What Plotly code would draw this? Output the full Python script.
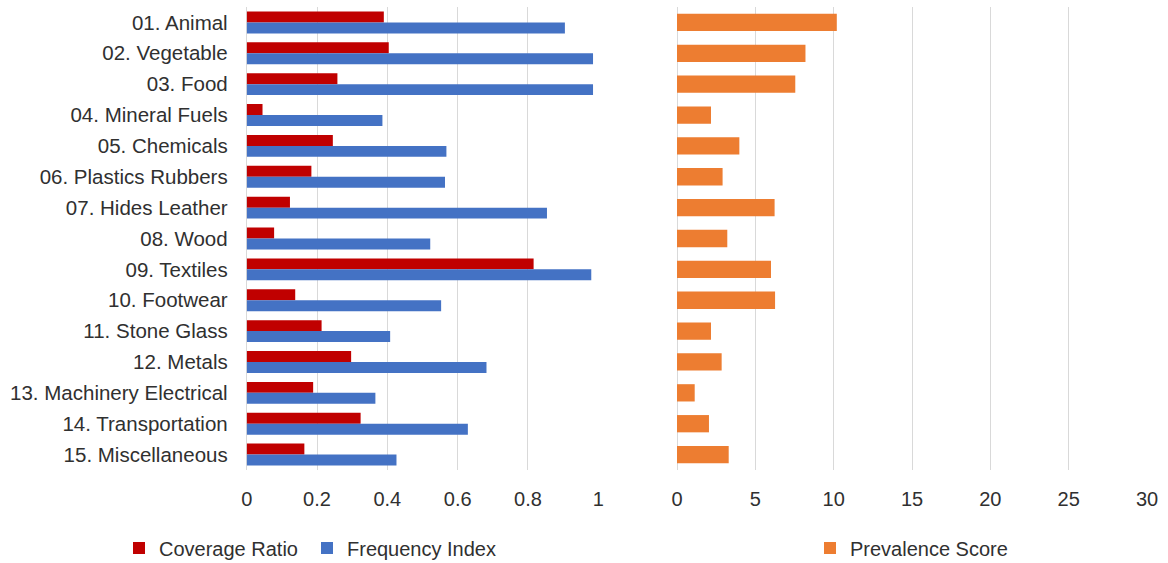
import plotly.graph_objects as go

categories = [
    "01. Animal", "02. Vegetable", "03. Food", "04. Mineral Fuels",
    "05. Chemicals", "06. Plastics Rubbers", "07. Hides Leather", "08. Wood",
    "09. Textiles", "10. Footwear", "11. Stone Glass", "12. Metals",
    "13. Machinery Electrical", "14. Transportation", "15. Miscellaneous",
]
coverage_ratio = [0.39, 0.404, 0.258, 0.045, 0.245, 0.184, 0.123, 0.078,
                  0.816, 0.138, 0.213, 0.297, 0.189, 0.324, 0.164]
frequency_index = [0.905, 0.985, 0.985, 0.386, 0.568, 0.564, 0.854, 0.522,
                   0.98, 0.553, 0.408, 0.682, 0.366, 0.629, 0.426]
prevalence_score = [10.2, 8.2, 7.55, 2.17, 3.98, 2.91, 6.23, 3.21,
                    6.0, 6.26, 2.17, 2.85, 1.13, 2.04, 3.3]

left_ticks = [0, 0.2, 0.4, 0.6, 0.8, 1]
left_tick_text = ["0", "0.2", "0.4", "0.6", "0.8", "1"]
right_ticks = [0, 5, 10, 15, 20, 25, 30]

W, H = 1168, 563
FAMILY = "Liberation Sans, Arial, sans-serif"
TEXT = "#303030"
FONT = dict(family=FAMILY, size=20, color=TEXT)
CAT_FONT = dict(family=FAMILY, size=20.5, color=TEXT)
GRID = "#d9d9d9"

fig = go.Figure()
fig.add_trace(go.Bar(
    y=categories, x=coverage_ratio, orientation="h", name="Coverage Ratio",
    marker=dict(color="#c00000", line=dict(width=0)),
    xaxis="x", yaxis="y", legend="legend",
))
fig.add_trace(go.Bar(
    y=categories, x=frequency_index, orientation="h", name="Frequency Index",
    marker=dict(color="#4472c4", line=dict(width=0)),
    xaxis="x", yaxis="y", legend="legend2",
))
fig.add_trace(go.Bar(
    y=categories, x=prevalence_score, orientation="h", name="Prevalence Score",
    marker=dict(color="#ed7d31", line=dict(width=0)), width=0.56,
    xaxis="x2", yaxis="y2", legend="legend3",
))


def legend_at(x_px):
    return dict(
        orientation="h", x=x_px / W, y=(H - 548) / H,
        xanchor="left", yanchor="middle",
        font=FONT, bgcolor="rgba(0,0,0,0)", itemclick=False,
    )


y_dom = [(H - 470) / H, (H - 7) / H]
fig.update_layout(
    width=W, height=H,
    margin=dict(l=0, r=0, t=0, b=0, autoexpand=False),
    paper_bgcolor="white", plot_bgcolor="white",
    font=FONT,
    barmode="group", bargap=0.29, bargroupgap=0,
    xaxis=dict(
        domain=[246.7 / W, 598.3 / W], range=[0, 1],
        tickvals=left_ticks, ticktext=left_tick_text,
        showgrid=True, gridcolor=GRID, gridwidth=1,
        zeroline=True, zerolinecolor=GRID, zerolinewidth=1,
        showline=False, ticks="", ticklabelstandoff=15,
        automargin=False, fixedrange=True,
    ),
    yaxis=dict(
        domain=y_dom, type="category", categoryorder="array",
        categoryarray=categories, autorange="reversed",
        tickfont=CAT_FONT,
        showgrid=False, zeroline=False, showline=False, ticks="",
        ticklabelstandoff=18, automargin=False,
    ),
    xaxis2=dict(
        domain=[677 / W, 1147 / W], range=[0, 30], anchor="y2",
        tickvals=right_ticks,
        showgrid=True, gridcolor=GRID, gridwidth=1,
        zeroline=True, zerolinecolor=GRID, zerolinewidth=1,
        showline=False, ticks="", ticklabelstandoff=15,
        automargin=False,
    ),
    yaxis2=dict(
        domain=y_dom, anchor="x2", matches="y", type="category",
        categoryorder="array", categoryarray=categories,
        autorange="reversed", showticklabels=False,
        showgrid=False, zeroline=False, showline=False, ticks="",
    ),
    legend=legend_at(119),
    legend2=legend_at(307),
    legend3=legend_at(810),
    showlegend=True,
)

fig.write_html("out.html")
